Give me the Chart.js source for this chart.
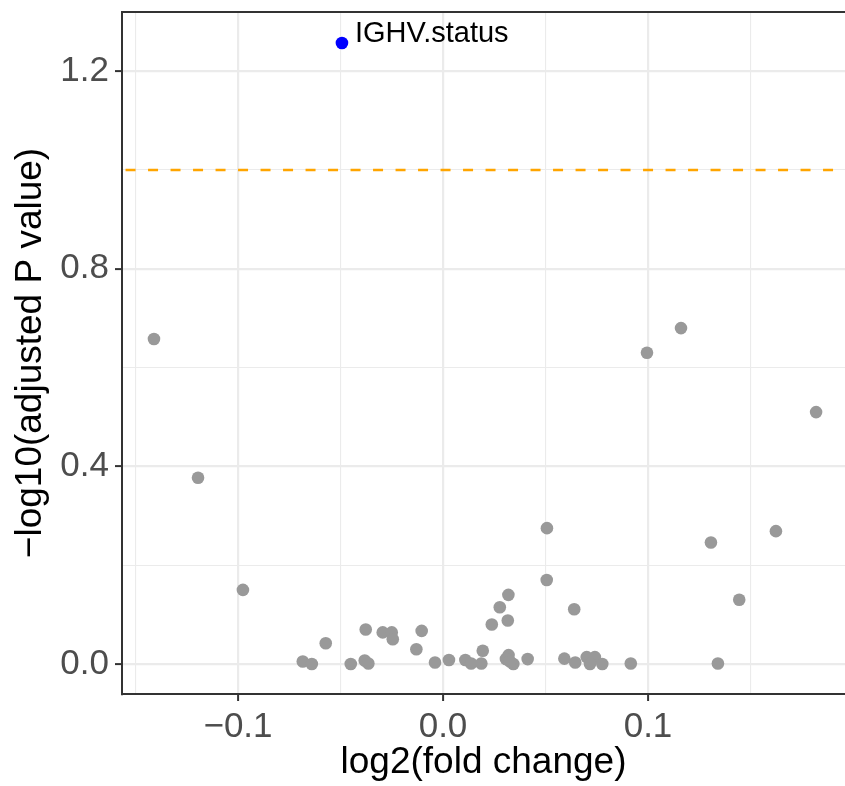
<!DOCTYPE html>
<html lang="en"><head>
<meta charset="utf-8">
<title>Volcano plot</title>
<script src="https://cdn.jsdelivr.net/npm/chart.js@4"></script>
<style>
*{margin:0;padding:0}
body{background:#fff}
canvas{display:block}
</style></head><body>
<canvas id="c" width="845" height="786"></canvas>
<script>
// grey points (not significant)
const fcX=[-0.141,-0.1195,-0.0976,-0.0684,-0.0640,-0.0572,-0.0450,-0.0377,-0.0382,-0.0364,-0.0294,-0.0250,-0.0245,-0.0130,-0.0104,-0.0039,0.0029,0.0109,0.0137,0.0187,0.0194,0.0238,0.0277,0.0319,0.0316,0.0320,0.0307,0.0343,0.0327,0.0413,0.0506,0.0507,0.0640,0.0592,0.0645,0.0701,0.0741,0.0717,0.0777,0.0916,0.1341,0.1307,0.1624,0.1445,0.0995,0.1161,0.1820];
const padjY=[0.658,0.377,0.150,0.005,0,0.042,0,0.070,0.007,0.001,0.064,0.064,0.050,0.030,0.067,0.003,0.008,0.008,0.001,0.001,0.027,0.080,0.115,0.140,0.088,0.018,0.010,0,0.005,0.010,0.170,0.275,0.111,0.011,0.003,0.014,0.014,0,0,0.001,0.001,0.246,0.269,0.130,0.630,0.680,0.510];
// significant hit
const sigLabels=['IGHV.status'];
const sigX=[-0.0493];
const sigY=[1.257];
const threshold=1;
const xMajor=[-0.1,0,0.1];
const xTicks=[-0.15,-0.1,-0.05,0,0.05,0.1,0.15];
const yMajor=[0,0.4,0.8,1.2];
const yTicks=[0,0.2,0.4,0.6,0.8,1.0,1.2];

const isMajor=(arr,v)=>arr.some(m=>Math.abs(m-v)<1e-9);
const fmt=v=>(v<0?'\u2212':'')+Math.abs(v).toFixed(1);
const FONT='"Liberation Sans", Arial, sans-serif';

const extras={
  id:'extras',
  beforeDatasetsDraw(chart){
    const {ctx,chartArea:a}=chart;
    ctx.save();
    ctx.strokeStyle='#333333';ctx.lineWidth=2;
    ctx.beginPath();ctx.moveTo(a.left,a.top);ctx.lineTo(chart.width,a.top);ctx.stroke();
    ctx.restore();
  },
  afterDatasetsDraw(chart){
    const {ctx}=chart;
    const meta=chart.getDatasetMeta(2);
    ctx.save();
    ctx.font='29px '+FONT;
    ctx.fillStyle='#000';ctx.textBaseline='alphabetic';
    meta.data.forEach((p,i)=>ctx.fillText(sigLabels[i],p.x+13,p.y-1));
    ctx.restore();
  }
};

new Chart(document.getElementById('c'),{
  type:'scatter',
  data:{datasets:[
    {type:'line',data:[{x:-1,y:threshold},{x:1,y:threshold}],borderColor:'#FFA500',borderWidth:2.6,borderDash:[10,12.5],pointRadius:0,fill:false},
    {data:fcX.map((x,i)=>({x,y:padjY[i]})),backgroundColor:'#999999',borderWidth:0,pointRadius:6.3},
    {data:sigX.map((x,i)=>({x,y:sigY[i]})),backgroundColor:'#0000FF',borderWidth:0,pointRadius:6.3}
  ]},
  options:{
    responsive:false,animation:false,
    layout:{autoPadding:false,padding:{top:12,right:0,left:0,bottom:0}},
    plugins:{legend:{display:false},tooltip:{enabled:false}},
    scales:{
      x:{type:'linear',min:-0.15659,max:0.1961,
        afterFit:s=>{s.height=92;s.paddingLeft=0;s.paddingRight=0},
        afterBuildTicks:s=>{s.ticks=xTicks.map(v=>({value:v}))},
        border:{color:'#333333',width:2},
        grid:{color:'#ebebeb',lineWidth:c=>isMajor(xMajor,c.tick.value)?2.2:1.1,
          tickColor:c=>isMajor(xMajor,c.tick.value)?'#333333':'rgba(0,0,0,0)',tickLength:7,tickWidth:2},
        ticks:{autoSkip:false,maxRotation:0,padding:5,color:'#4d4d4d',font:{family:FONT,size:35},
          callback:v=>isMajor(xMajor,v)?fmt(v):''},
        title:{display:true,text:'log2(fold change)',color:'#000',font:{family:FONT,size:37,lineHeight:1.2},padding:{top:0,bottom:1}}
      },
      y:{type:'linear',min:-0.0607,max:1.3199,
        afterFit:s=>{s.width=122;s.paddingTop=0;s.paddingBottom=0},
        afterBuildTicks:s=>{s.ticks=yTicks.map(v=>({value:v}))},
        border:{color:'#333333',width:2},
        grid:{color:'#ebebeb',lineWidth:c=>isMajor(yMajor,c.tick.value)?2.2:1.1,
          tickColor:c=>isMajor(yMajor,c.tick.value)?'#333333':'rgba(0,0,0,0)',tickLength:7,tickWidth:2},
        ticks:{autoSkip:false,padding:6,color:'#4d4d4d',font:{family:FONT,size:35},
          callback:v=>isMajor(yMajor,v)?fmt(v):''},
        title:{display:true,text:'\u2212log10(adjusted P value)',color:'#000',font:{family:FONT,size:37,lineHeight:1.2},padding:{top:9,bottom:0}}
      }
    }
  },
  plugins:[extras]
});
</script></body></html>
